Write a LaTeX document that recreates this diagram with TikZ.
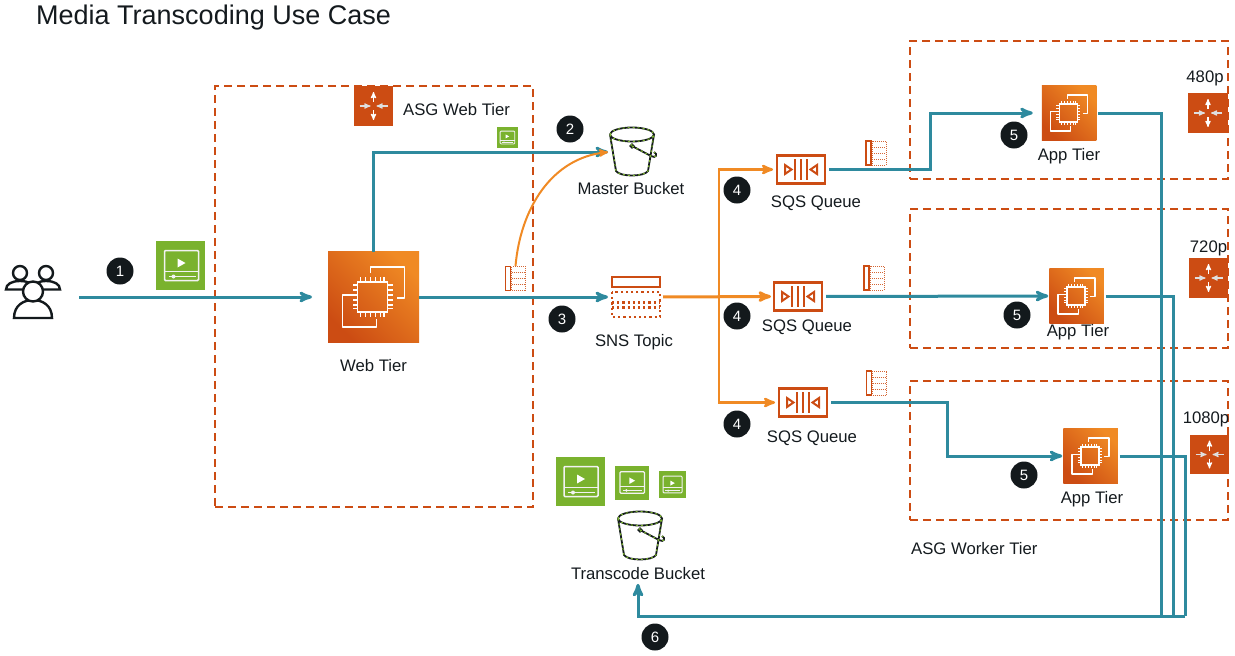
\documentclass[tikz,border=0pt]{standalone}
\usepackage{fontspec}
\setmainfont{Liberation Sans}
\usetikzlibrary{arrows}

\definecolor{tealflow}{HTML}{2E8A9E}
\definecolor{orangeflow}{HTML}{F08A24}
\definecolor{awsred}{HTML}{CC4C13}
\definecolor{awsgreen}{HTML}{7AB22E}
\definecolor{badgedark}{HTML}{13191C}
\definecolor{inktext}{HTML}{141A1E}

\newcommand{\bucketpath}{
	(-22,-17.5) arc[x radius=22,y radius=7,start angle=180,end angle=-180]
	(-22,-17.5) -- (-16,19) .. controls (-12,25) and (12,25) .. (16,19) -- (22,-17.5)
	(0,-6) -- (19,4) .. controls (24,7) and (26,2) .. (22,0)
	(0,-6) circle (1.6)
}

\tikzset{
	pics/chip/.style={code={
		\draw[white,line width=#1,line join=round] (-3,-24) -- (-3,-30) -- (31,-30) -- (31,1) -- (23,1);
		\draw[white,line width=#1,line join=round] (-20,-2) -- (-31,-2) -- (-31,30) -- (3,30) -- (3,22);
		\draw[white,line width=#1] (-16,-15) rectangle (14,15);
		\foreach \p in {-12.5,-7.5,-2.5,2.5,7.5,11} {
			\draw[white,line width=.8*#1] (\p-.5,-15) -- (\p-.5,-20) (\p-.5,15) -- (\p-.5,20);
			\draw[white,line width=.8*#1] (-16,\p+.5) -- (-21,\p+.5) (14,\p+.5) -- (19,\p+.5);
		}
	}},
	pics/fourarrows/.style={code={
		\draw[->,>=stealth',white,line width=1.2pt] (0,-4) -- (0,-14);
		\draw[->,>=stealth',white,line width=1.2pt] (0,4) -- (0,14);
		\draw[->,>=stealth',white!75!gray,line width=1.2pt] (-14,0) -- (-3,0);
		\draw[->,>=stealth',white!75!gray,line width=1.2pt] (14,0) -- (3,0);
	}},
	pics/queueicon/.style={code={
		\draw[awsred,line width=2.2pt] (-24,-14) rectangle (24,14);
		\draw[awsred,line width=2pt] (-16,-4.5) -- (-9.5,0) -- (-16,4.5) -- cycle;
		\draw[awsred,line width=2pt] (16,-4.5) -- (9.5,0) -- (16,4.5) -- cycle;
		\foreach \p in {-6,0,6}
			\draw[awsred,line width=2pt] (\p,-10.5) -- (\p,10.5);
	}},
	pics/topicicon/.style={code={
		\draw[awsred,line width=2.4pt] (-24,-20) rectangle (24,-10);
		\draw[awsred,line width=2.2pt,dash pattern=on 2.2pt off 3pt] (-24,-5) rectangle (24,20);
		\foreach \p in {5.5,10.5}
			\draw[awsred,line width=2.2pt,dash pattern=on 2.2pt off 3pt] (-24,\p) -- (24,\p);
	}},
	pics/msgicon/.style={code={
		\draw[awsred,line width=1.2pt] (-10,-12) rectangle (-5,12);
		\draw[awsred!85,line width=1pt,densely dotted] (-4,-12) rectangle (10,12);
		\foreach \p in {-6,0,6}
			\draw[awsred!85,line width=1pt,densely dotted] (-4,\p) -- (10,\p);
	}},
	pics/videoicon/.style={code={
		\draw[white!90!gray,line width=#1,rounded corners=1pt] (-16,-15) rectangle (18,15);
		\draw[white!90!gray,line width=#1] (-16,6) -- (18,6);
		\fill[white] (-3,-7) -- (5,-2.5) -- (-3,2) -- cycle;
		\draw[white!90!gray,line width=#1] (-12,11) -- (15,11);
		\fill[white!90!gray] (-7,11) circle (2);
	}},
	pics/bucketicon/.style={code={
		\draw[badgedark,line width=1.8pt] \bucketpath;
		\draw[awsgreen,line width=1.1pt,dash pattern=on 2pt off 3pt] \bucketpath;
	}},
	pics/groupicon/.style={code={
		\draw[badgedark,line width=2.4pt,fill=white] (-27,-3.5) .. controls (-27,-9) and (-21,-12) .. (-13,-12) .. controls (-5,-12) and (1,-9) .. (1,-3.5) -- cycle;
		\draw[badgedark,line width=2.4pt,fill=white] (-13,-20) circle (7);
		\draw[badgedark,line width=2.4pt,fill=white] (1,-3.5) .. controls (1,-9) and (5,-12) .. (13,-12) .. controls (21,-12) and (27,-9) .. (27,-3.5) -- cycle;
		\draw[badgedark,line width=2.4pt,fill=white] (13,-20) circle (7);
		\draw[badgedark,line width=2.4pt,fill=white] (-19,25) .. controls (-19,12) and (-9,7) .. (0,7) .. controls (9,7) and (19,12) .. (19,25) -- cycle;
		\draw[badgedark,line width=2.4pt,fill=white] (0,-1.5) circle (10);
	}}
}

\begin{document}
\begin{tikzpicture}[x=1pt,y=-1pt,>=stealth',auto,every node/.style={font=\fontsize{16.7}{18}\selectfont,text=inktext}]
\tikzstyle{tierbox}=[shape=rectangle,draw=awsred,line width=2pt,dash pattern=on 8pt off 5pt,inner sep=0pt,outer sep=0pt]
\tikzstyle{ec2box}=[shape=rectangle,inner sep=0pt,outer sep=0pt,left color=awsred,middle color=awsred,right color=orangeflow,shading angle=135]
\tikzstyle{asgbox}=[shape=rectangle,fill=awsred,inner sep=0pt,outer sep=0pt,minimum size=39.5pt]
\tikzstyle{videobox}=[shape=rectangle,fill=awsgreen,inner sep=0pt,outer sep=0pt]
\tikzstyle{iconbox}=[shape=rectangle,inner sep=0pt,outer sep=0pt]
\tikzstyle{badge}=[shape=circle,fill=badgedark,text=white,inner sep=0pt,minimum size=27pt,font=\fontsize{15}{16}\selectfont]
\tikzstyle{tealline}=[->,draw=tealflow,line width=3pt,shorten >=1pt]
\tikzstyle{tealbus}=[draw=tealflow,line width=3pt]
\tikzstyle{orangeline}=[->,draw=orangeflow,line width=2.6pt,shorten >=1pt]
\useasboundingbox (0,0) rectangle (1235,656);

% tiers
\node[tierbox,minimum width=318pt,minimum height=421pt] (webgroup) at (374,296.5) {};
\node[tierbox,minimum width=318pt,minimum height=138pt] (workera) at (1069,110) {};
\node[tierbox,minimum width=318pt,minimum height=139pt] (workerb) at (1069,278.5) {};
\node[tierbox,minimum width=318pt,minimum height=139pt] (workerc) at (1069,450.5) {};

% title and group labels
\node[font=\fontsize{27}{30}\selectfont,anchor=west,inner sep=0pt] (title) at (36,18) {Media Transcoding Use Case};
\node[anchor=west,inner sep=0pt] (webasgtext) at (403,109.5) {ASG Web Tier};
\node[anchor=west,inner sep=0pt] (workertext) at (911,548.5) {ASG Worker Tier};

% users and web tier
\node[iconbox,minimum width=54pt,minimum height=52pt] (users) at (33,293) {};
\pic at (users) {groupicon};
\node[videobox,minimum size=49.5pt] (videoa) at (180.5,265.5) {};
\pic at (videoa) {videoicon=1.5pt};
\node[ec2box,minimum size=91pt] (web) at (373.5,297) {};
\pic at (web) {chip=1.9pt};
\node[inner sep=1pt] (webtext) [below of=web, node distance=68.5pt] {Web Tier};
\node[asgbox] (asgweb) at (373.5,106) {};
\pic at (asgweb) {fourarrows};
\node[videobox,minimum size=21pt] (videob) at (507,137.5) {};
\pic[scale=.43] at (videob) {videoicon=.9pt};
\node[iconbox,minimum width=21pt,minimum height=25pt] (msgweb) at (515.5,278.5) {};
\pic at (msgweb) {msgicon};

% buckets and topic
\node[iconbox,minimum width=46pt,minimum height=50pt] (master) at (632,152) {};
\pic at (master) {bucketicon};
\node[inner sep=1pt] (mastertext) [below of=master, node distance=36.5pt, xshift=-1pt] {Master Bucket};
\node[iconbox,minimum width=50pt,minimum height=42pt] (sns) at (636,297) {};
\pic at (sns) {topicicon};
\node[inner sep=1pt] (snstext) [below of=sns, node distance=45.5pt, xshift=-2pt] {SNS Topic};

% queues
\node[iconbox,minimum width=50pt,minimum height=29pt] (sqsa) at (801,169.5) {};
\pic at (sqsa) {queueicon};
\node[inner sep=1pt] (sqsatext) [below of=sqsa, node distance=34pt, xshift=15pt] {SQS Queue};
\node[iconbox,minimum width=50pt,minimum height=29pt] (sqsb) at (798,296.5) {};
\pic at (sqsb) {queueicon};
\node[inner sep=1pt] (sqsbtext) [below of=sqsb, node distance=31pt, xshift=9pt] {SQS Queue};
\node[iconbox,minimum width=50pt,minimum height=29pt] (sqsc) at (803,402.5) {};
\pic at (sqsc) {queueicon};
\node[inner sep=1pt] (sqsctext) [below of=sqsc, node distance=36pt, xshift=9pt] {SQS Queue};
\node[iconbox,minimum width=21pt,minimum height=25pt] (msga) at (876,153) {};
\pic at (msga) {msgicon};
\node[iconbox,minimum width=21pt,minimum height=25pt] (msgb) at (874,278) {};
\pic at (msgb) {msgicon};
\node[iconbox,minimum width=21pt,minimum height=25pt] (msgc) at (876.5,383) {};
\pic at (msgc) {msgicon};

% workers
\node[ec2box,minimum size=54.5pt] (appa) at (1069,113) {};
\pic[scale=.6] at (appa) {chip=1.3pt};
\node[inner sep=1pt] (appatext) [below of=appa, node distance=43.5pt] {App Tier};
\node[ec2box,minimum size=54.5pt] (appb) at (1076.5,296) {};
\pic[scale=.6] at (appb) {chip=1.3pt};
\node[inner sep=1pt] (appbtext) [below of=appb, node distance=36.5pt, xshift=1.5pt] {App Tier};
\node[ec2box,minimum size=54.5pt] (appc) at (1090.5,456) {};
\pic[scale=.6] at (appc) {chip=1.3pt};
\node[inner sep=1pt] (appctext) [below of=appc, node distance=43.5pt, xshift=1.5pt] {App Tier};
\node[asgbox] (asga) at (1208,113) {};
\pic at (asga) {fourarrows};
\node[inner sep=1pt] (asgatext) [above of=asga, node distance=34.5pt, xshift=-3pt] {480p};
\node[asgbox] (asgb) at (1208.5,278) {};
\pic at (asgb) {fourarrows};
\node[inner sep=1pt] (asgbtext) [above of=asgb, node distance=29.5pt] {720p};
\node[asgbox] (asgc) at (1209.5,454.5) {};
\pic at (asgc) {fourarrows};
\node[inner sep=1pt] (asgctext) [above of=asgc, node distance=35pt, xshift=-3.5pt] {1080p};

% transcode outputs
\node[videobox,minimum size=49pt] (videoc) at (580,481.5) {};
\pic at (videoc) {videoicon=1.5pt};
\node[videobox,minimum size=34pt] (videod) at (631.5,482.5) {};
\pic[scale=.72] at (videod) {videoicon=1.2pt};
\node[videobox,minimum size=27pt] (videoe) at (672,484.5) {};
\pic[scale=.56] at (videoe) {videoicon=1pt};
\node[iconbox,minimum width=46pt,minimum height=50pt] (transcode) at (640,536) {};
\pic at (transcode) {bucketicon};
\node[inner sep=1pt] (transcodetext) [below of=transcode, node distance=37.5pt, xshift=-2pt] {Transcode Bucket};

% step badges
\node[badge] (stepa) at (120,271) {1};
\node[badge] (stepb) at (570,129) {2};
\node[badge] (stepc) at (562,319) {3};
\node[badge] (stepda) at (737,190) {4};
\node[badge] (stepdb) at (737,316) {4};
\node[badge] (stepdc) at (737,424) {4};
\node[badge] (stepea) at (1014,135) {5};
\node[badge] (stepeb) at (1017,315) {5};
\node[badge] (stepec) at (1024,475) {5};
\node[badge] (stepf) at (655,637) {6};

% turning points
\coordinate (fork) at (719,297);
\coordinate (benda) at (930,142);
\coordinate (bendc) at (947,429);
\coordinate (busa) at (1161,616);
\coordinate (busb) at (1173.5,616);
\coordinate (busc) at (1185,616);

% connectors
\draw[tealline,shorten <=19pt,shorten >=16pt] (users.east |- web.west) -- (web.west);
\draw[tealline] (web.north) |- (master.west);
\draw[->,draw=orangeflow,line width=2pt,shorten >=1pt] (msgweb.north) to[out=85,in=186] (master.west);
\draw[tealline,shorten >=3pt] (web.east) -- (sns.west);
\draw[orangeline,shorten <=2pt,shorten >=3pt] (sns.east) -- (fork) |- (sqsa.west);
\draw[orangeline,shorten <=2pt,line width=3pt,shorten >=2pt] (sns.east) -- (sqsb.west);
\draw[orangeline,shorten <=2pt,shorten >=3pt] (sns.east) -- (fork) |- (sqsc.west);
\draw[tealline,shorten <=3pt,shorten >=9pt] (sqsa.east) -| (benda) |- (appa.west);
\draw[tealline,shorten <=3pt,shorten >=1pt] (sqsb.east) -- (appb.west);
\draw[tealline,shorten <=3pt,shorten >=1pt] (sqsc.east) -| (bendc) |- (appc.west);
\draw[tealbus,shorten <=2pt] (appa.east) -| (busa);
\draw[tealbus,shorten <=2pt] (appb.east) -| (busb);
\draw[tealbus,shorten <=2pt] (appc.east) -| (busc);
\draw[tealline,shorten >=3pt] (busc) -| (transcodetext.south);
\end{tikzpicture}
\end{document}
